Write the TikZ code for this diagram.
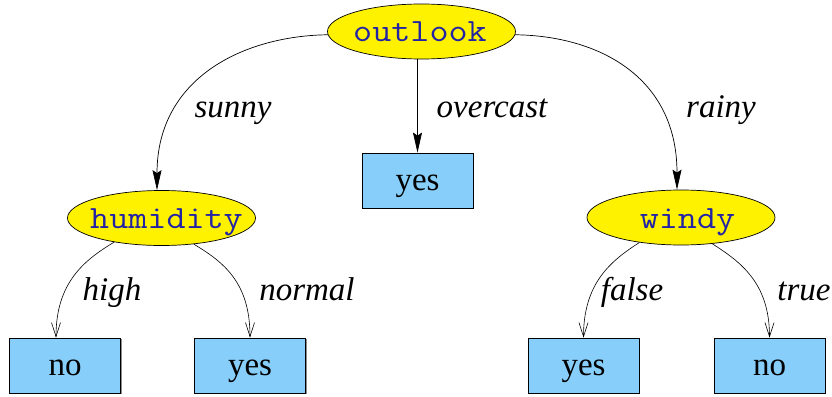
\documentclass[tikz,border=0pt]{standalone}
\usepackage{fontspec}
\setmainfont{Liberation Serif}
\newfontfamily\lblfont{LiberationSerif-Italic.ttf}
\newfontfamily\attrfont{Latin Modern Mono}[FakeStretch=1.14]
\usetikzlibrary{arrows.meta,shapes.geometric,shadows}
\definecolor{leafblue}{RGB}{135,206,250}
\definecolor{attrtext}{RGB}{35,35,165}
\tikzset{
  attr/.style={ellipse,draw=black,line width=0.7pt,fill=yellow,inner sep=0pt,
    minimum width=188pt,minimum height=55pt,text height=24pt,text depth=3pt,
    font=\fontsize{32.5}{34}\attrfont,text=attrtext},
  leaf/.style={rectangle,draw=black,line width=0.8pt,fill=leafblue,inner sep=0pt,
    minimum width=111pt,minimum height=55pt,text height=22pt,text depth=3pt,
    font=\fontsize{33}{36}\selectfont,
    drop shadow={shadow xshift=1.3pt,shadow yshift=-1.3pt,fill=black!45,opacity=1}},
  lbl/.style={anchor=base,inner sep=0pt,font=\fontsize{33}{36}\lblfont},
  topedge/.style={line width=0.7pt,-{Stealth[length=20pt,width=9pt,inset=3pt]}},
  lowedge/.style={line width=0.6pt,-{Straight Barb[length=14pt,width=9pt]}},
}
\begin{document}
\begin{tikzpicture}[x=1pt,y=-1pt]
\useasboundingbox (0,0) rectangle (832,396);
% attribute nodes
\node[attr] (outlook) at (421.5,31.5) {\makebox[0pt]{\hspace*{-3pt}outlook}};
\node[attr] (humidity) at (161.5,218) {\makebox[0pt]{\hspace*{10pt}humidity}};
\node[attr] (windy) at (681,217.5) {\makebox[0pt]{\hspace*{13pt}windy}};
% leaves
\node[leaf] (yesmid) at (417.5,180.5) {yes};
\node[leaf] (nohum) at (65,365.5) {no};
\node[leaf] (yeshum) at (250,365.5) {yes};
\node[leaf] (yeswin) at (583.5,365.5) {yes};
\node[leaf] (nowin) at (769.5,365.5) {no};
% labels
\node[lbl] (lsunny) at (233,117) {sunny};
\node[lbl] (lovercast) at (492,117) {overcast};
\node[lbl] (lrainy) at (721,117) {rainy};
\node[lbl] (lhigh) at (112,300) {high};
\node[lbl] (lnormal) at (307,300) {normal};
\node[lbl] (lfalse) at (632,300) {false};
\node[lbl] (ltrue) at (804,300) {true};
% edge end points
\coordinate (hn) at ([xshift=-4.5pt]humidity.north);
\coordinate (wn) at ([xshift=-4pt]windy.north);
\coordinate (nohumn) at ([xshift=-9pt]nohum.north);
% top edges
\draw[topedge] (outlook.182) .. controls +(-83,1) and +(0,-113) .. (hn);
\draw[topedge] (outlook.358) .. controls +(83,1) and +(0,-113) .. (wn);
\draw[topedge] (yesmid.north |- outlook.south) -- (yesmid.north);
% lower edges
\draw[lowedge] (humidity.207) .. controls +(-30,18) and +(0,-55) .. (nohumn);
\draw[lowedge] (humidity.321) .. controls +(30,18) and +(0,-55) .. (yeshum.north);
\draw[lowedge] (windy.211) .. controls +(-28,18) and +(0,-55) .. (yeswin.north);
\draw[lowedge] (windy.320) .. controls +(28,18) and +(0,-55) .. (nowin.north);
\end{tikzpicture}
\end{document}
